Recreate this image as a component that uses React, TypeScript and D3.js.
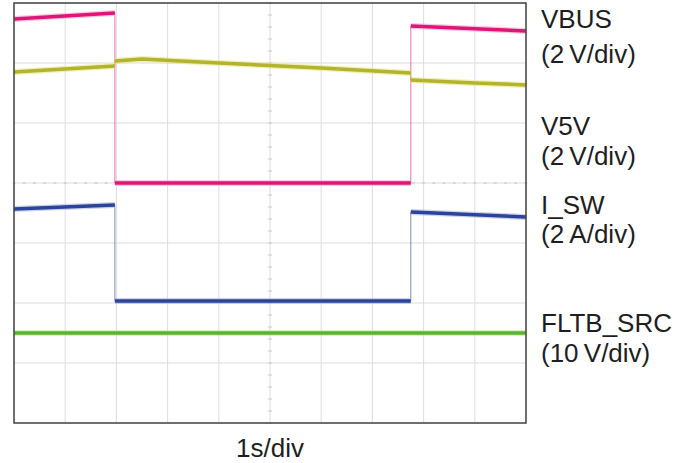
import React from "react";
import * as d3 from "d3";

// Oscilloscope capture: 10 horizontal divisions at 1 s/div, 7 vertical divisions.
const W = 694;
const H = 463;

// Each trace is a list of flat pieces; pieces are joined by thin vertical edges.
// Times in seconds, values in channel units.
const VBUS_T = [[0, 1.97], [1.97, 7.75], [7.75, 10]];
const VBUS_V = [[5.47, 5.67], [0, 0], [5.23, 5.07]];
const VBUS_GROUND_DIV = 4;
const VBUS_SCALE = 2; // V/div

const V5V_T = [[0, 1.97], [1.97, 2.5, 4, 6, 7.75], [7.75, 9, 10]];
const V5V_V = [[5.3, 5.5], [5.67, 5.73, 5.6, 5.43, 5.27], [5.03, 4.93, 4.87]];
const V5V_GROUND_DIV = 3.2;
const V5V_SCALE = 2; // V/div

const ISW_T = [[0, 1.97], [1.97, 7.75], [7.75, 10]];
const ISW_V = [[3.13, 3.27], [0.07, 0.07], [3.03, 2.87]];
const ISW_GROUND_DIV = 2;
const ISW_SCALE = 2; // A/div

const FLT_T = [[0, 10]];
const FLT_V = [[5, 5]];
const FLT_GROUND_DIV = 1;
const FLT_SCALE = 10; // V/div

const LABEL_NAMES = ["VBUS", "V5V", "I_SW", "FLTB_SRC"];
const LABEL_SCALES = ["(2\u2009V/div)", "(2\u2009V/div)", "(2\u2009A/div)", "(10\u2009V/div)"];
const LABEL_BASELINES = [[28, 63], [135, 165], [214, 243], [332, 362]];
const X_LABEL = "1s/div";

const X_DIVS = 10;
const Y_DIVS = 7;

const plot = { left: 14, right: 526, top: 3, bottom: 423 };

const x = d3.scaleLinear().domain([0, X_DIVS]).range([plot.left, plot.right]);
const y = d3.scaleLinear().domain([0, Y_DIVS]).range([plot.bottom, plot.top]);

type Trace = {
  t: number[][];
  v: number[][];
  ground: number;
  scale: number;
  color: string;
  halo: string;
};

const traces: Trace[] = [
  { t: VBUS_T, v: VBUS_V, ground: VBUS_GROUND_DIV, scale: VBUS_SCALE, color: "#e0157a", halo: "#f4a6c8" },
  { t: V5V_T, v: V5V_V, ground: V5V_GROUND_DIV, scale: V5V_SCALE, color: "#b3b32c", halo: "#e4e48c" },
  { t: ISW_T, v: ISW_V, ground: ISW_GROUND_DIV, scale: ISW_SCALE, color: "#2b4399", halo: "#a9b6e0" },
  { t: FLT_T, v: FLT_V, ground: FLT_GROUND_DIV, scale: FLT_SCALE, color: "#5ab52e", halo: "#bfe3a8" },
];

function TracePaths({ tr }: { tr: Trace }) {
  const toY = (val: number) => y(tr.ground + val / tr.scale);
  const line = d3
    .line<[number, number]>()
    .x((d) => x(d[0]))
    .y((d) => toY(d[1]));
  const pieces = tr.t.map((ts, i) => ts.map((t, j) => [t, tr.v[i][j]] as [number, number]));
  const edges: [number, number, number][] = [];
  for (let i = 1; i < pieces.length; i++) {
    const a = pieces[i - 1][pieces[i - 1].length - 1];
    const b = pieces[i][0];
    edges.push([b[0], a[1], b[1]]);
  }
  return (
    <g>
      {edges.map(([t, v0, v1], i) => (
        <line
          key={"e" + i}
          x1={x(t)}
          x2={x(t)}
          y1={toY(v0)}
          y2={toY(v1)}
          stroke={tr.color}
          strokeWidth={1}
          strokeOpacity={0.6}
        />
      ))}
      {pieces.map((p, i) => (
        <g key={"p" + i}>
          <path d={line(p) || ""} fill="none" stroke={tr.halo} strokeWidth={6} strokeOpacity={0.6} />
          <path d={line(p) || ""} fill="none" stroke={tr.color} strokeWidth={3.5} />
        </g>
      ))}
    </g>
  );
}

export default function App() {
  const xTicks = d3.range(0, X_DIVS + 1);
  const yTicks = d3.range(0, Y_DIVS + 1);
  const centerX = x(X_DIVS / 2);
  const minor = d3.range(0, Y_DIVS * 5 + 1).map((i) => i / 5);
  const markerY = y(VBUS_GROUND_DIV);
  const minorX = d3.range(0, X_DIVS * 5 + 1).map((i) => i / 5);

  return (
    <svg
      width={W}
      height={H}
      style={{ position: "absolute", left: 0, top: 0, background: "#fff" }}
      fontFamily="'Liberation Sans', Arial, sans-serif"
    >
      <rect x={0} y={0} width={W} height={H} fill="#fff" />
      {/* graticule */}
      <g stroke="#dcdce4" strokeWidth={1}>
        {xTicks.map((d) => (
          <line key={"gx" + d} x1={x(d)} x2={x(d)} y1={plot.top} y2={plot.bottom} />
        ))}
        {yTicks.map((d) => (
          <line key={"gy" + d} x1={plot.left} x2={plot.right} y1={y(d)} y2={y(d)} />
        ))}
      </g>
      {/* center axis minor ticks */}
      <g stroke="#c8c8d0" strokeWidth={1}>
        {minor.map((d) => (
          <line key={"mt" + d} x1={centerX - 2} x2={centerX + 2} y1={y(d)} y2={y(d)} />
        ))}
      </g>
      {/* reference marker line */}
      <g stroke="#c4c4c4" strokeWidth={1}>
        {minorX.map((d) => (
          <line key={"mk" + d} x1={x(d) - 1.5} x2={x(d) + 1.5} y1={markerY} y2={markerY} />
        ))}
      </g>
      {traces.map((tr, i) => (
        <TracePaths key={i} tr={tr} />
      ))}
      <rect
        x={plot.left}
        y={plot.top}
        width={plot.right - plot.left}
        height={plot.bottom - plot.top}
        fill="none"
        stroke="#444"
        strokeWidth={1.5}
      />
      <g fill="#1e1e1e" fontSize={26}>
        {LABEL_NAMES.map((name, i) => (
          <g key={name}>
            <text x={541} y={LABEL_BASELINES[i][0]}>{name}</text>
            <text x={541} y={LABEL_BASELINES[i][1]}>{LABEL_SCALES[i]}</text>
          </g>
        ))}
        <text x={centerX} y={457} textAnchor="middle">{X_LABEL}</text>
      </g>
    </svg>
  );
}
